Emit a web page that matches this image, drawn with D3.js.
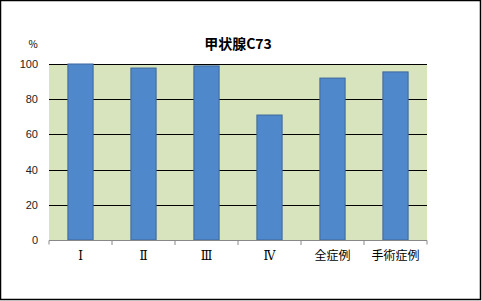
<!DOCTYPE html>
<html>
<head>
<meta charset="utf-8">
<script src="https://cdn.jsdelivr.net/npm/d3@7"></script>
<style>
  body { margin: 0; background: #fff; }
  svg { display: block; }
</style>
</head>
<body>
<svg id="chart"></svg>
<script>
(function () {
    const categories = ['Ⅰ', 'Ⅱ', 'Ⅲ', 'Ⅳ', '全症例', '手術症例'];
    const values = [100, 97.7, 98.9, 71, 92, 95.5];
    const yTicks = [0, 20, 40, 60, 80, 100];

    const width = 482;
    const height = 301;
    const plot = { left: 49, right: 427, top: 64, bottom: 240 };

    const svg = d3.select('#chart')
        .attr('width', width)
        .attr('height', height);

    // outer frame
    svg.append('rect')
        .attr('x', 0.5).attr('y', 0.5)
        .attr('width', width - 2).attr('height', height - 2)
        .attr('fill', '#fff')
        .attr('stroke', '#000')
        .attr('stroke-width', 1.5);

    const xScale = d3.scaleBand()
        .domain(categories)
        .range([plot.left, plot.right])
        .paddingInner(0.6)
        .paddingOuter(0.3);

    const yScale = d3.scaleLinear()
        .domain([0, 100])
        .range([plot.bottom, plot.top]);

    svg.append('rect')
        .attr('x', plot.left)
        .attr('y', plot.top)
        .attr('width', plot.right - plot.left)
        .attr('height', plot.bottom - plot.top)
        .attr('fill', '#d7e4bd');

    // gridlines
    svg.append('g')
        .selectAll('line')
        .data(yTicks.filter(d => d > 0))
        .join('line')
        .attr('x1', plot.left)
        .attr('x2', plot.right)
        .attr('y1', d => Math.round(yScale(d)) + 0.5)
        .attr('y2', d => Math.round(yScale(d)) + 0.5)
        .attr('stroke', '#000')
        .attr('stroke-width', 1.2);

    svg.append('g')
        .selectAll('rect')
        .data(values)
        .join('rect')
        .attr('x', (d, i) => xScale(categories[i]))
        .attr('y', d => yScale(d))
        .attr('width', xScale.bandwidth())
        .attr('height', d => plot.bottom - yScale(d))
        .attr('fill', '#5088cc')
        .attr('stroke', '#3c679a')
        .attr('stroke-width', 1);

    // y axis labels
    svg.append('g')
        .selectAll('text')
        .data(yTicks)
        .join('text')
        .attr('x', 38)
        .attr('y', d => yScale(d) + 4)
        .attr('text-anchor', 'end')
        .attr('font-family', 'Liberation Sans, Arial, sans-serif')
        .attr('font-size', 11)
        .attr('fill', '#222')
        .text(d => d);

    // x axis
    const xAxis = d3.axisBottom(xScale).tickSize(0).tickPadding(11);
    const gx = svg.append('g')
        .attr('transform', `translate(0,${plot.bottom})`)
        .call(xAxis);
    gx.select('.domain')
        .attr('stroke', '#888')
        .attr('d', `M${plot.left},4.5V0.5H${plot.right}V4.5`);
    gx.selectAll('.tick text')
        .attr('font-family', 'DejaVu Serif, Noto Sans CJK JP, serif')
        .attr('font-size', 12)
        .attr('fill', '#000');

    svg.append('g')
        .selectAll('line')
        .data(d3.range(1, categories.length))
        .join('line')
        .attr('x1', i => plot.left + i * (plot.right - plot.left) / categories.length)
        .attr('x2', i => plot.left + i * (plot.right - plot.left) / categories.length)
        .attr('y1', plot.bottom)
        .attr('y2', plot.bottom + 5)
        .attr('stroke', '#888');

    svg.append('text')
        .attr('x', 238)
        .attr('y', 49)
        .attr('text-anchor', 'middle')
        .attr('font-family', 'Noto Sans CJK JP, sans-serif')
        .attr('font-weight', 'bold')
        .attr('font-size', 14)
        .text('甲状腺C73');

    svg.append('text')
        .attr('x', 33)
        .attr('y', 48)
        .attr('text-anchor', 'middle')
        .attr('font-family', 'Noto Sans CJK JP, sans-serif')
        .attr('font-size', 10)
        .text('%');
})();
</script>
</body>
</html>
